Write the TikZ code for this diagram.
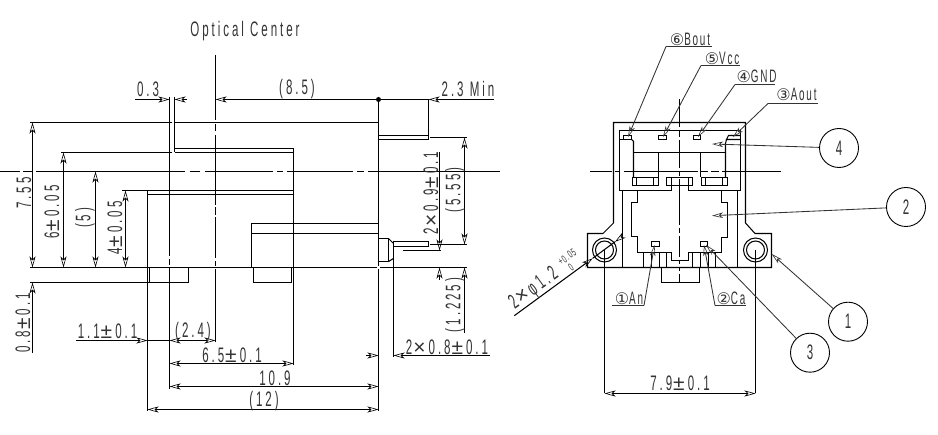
\documentclass[tikz,border=0pt]{standalone}
\usepackage{fontspec}
\usetikzlibrary{arrows.meta}
\newfontfamily\cadf[FakeStretch=0.55,LetterSpace=14]{Liberation Sans}
\newfontfamily\cadl[FakeStretch=0.55,LetterSpace=10]{Liberation Sans}
\newfontfamily\syf{Liberation Sans}
\newfontfamily\cirf{DejaVu Sans}
\newcommand{\cn}[1]{{\cirf\fontsize{16}{16}\selectfont #1}}
\newcommand{\pmm}{{\syf\kern1pt ±\kern3pt}}
\newcommand{\tmm}{{\syf\kern1pt ×\kern3pt}}
\tikzset{
  ln/.style={line width=1.05pt,black},
  dimb/.style={ln,{Stealth[open,length=11pt,width=6pt,inset=3pt,line width=0.6pt]}-{Stealth[open,length=11pt,width=6pt,inset=3pt,line width=0.6pt]}},
  dimr/.style={ln,-{Stealth[open,length=11pt,width=6pt,inset=3pt,line width=0.6pt]}},
  lead/.style={line width=0.85pt,black!80,-{Stealth[open,length=11pt,width=5.5pt,inset=3pt,line width=0.6pt]}},
  txt/.style={inner sep=0pt,text=black!80,font=\cadf\fontsize{21}{21}\selectfont},
  lbl/.style={inner sep=0pt,text=black!80,font=\cadl\fontsize{18}{18}\selectfont},
  tol/.style={inner sep=0pt,text=black!80,font=\cadl\fontsize{11}{11}\selectfont},
  bal/.style={circle,draw=black,line width=0.9pt,minimum size=39pt,inner sep=0pt,text=black!80,font=\cadf\fontsize{21}{21}\selectfont},
}
\begin{document}
\begin{tikzpicture}[x=1pt,y=-1pt]
\useasboundingbox (0,0) rectangle (938,435);
\fill[white] (0,0) rectangle (938,435);
% ---- centre lines, left view
\foreach \a/\b in {0/20,23/33,36/185,190/200,205/273,277/283,287/353,357/364,368/500}
  \draw[ln] (\a,171.5) -- (\b,171.5);
\foreach \a/\b in {55/120,124/131,135/205,207.5/215,217.5/258,261/266,269/342}
  \draw[ln] (215.5,\a) -- (215.5,\b);
\foreach \a/\b in {97/256,259/265,268/389}
  \draw[ln] (169.5,\a) -- (169.5,\b);
% ---- body, left view
\draw[ln] (30,122.5) -- (172,122.5);
\draw[ln] (174.5,97) -- (174.5,152.5);
\draw[ln] (174.5,122.5) -- (378.5,122.5);
\draw[ln] (174.5,148.5) -- (293.5,148.5);
\draw[ln] (61,152.5) -- (172,152.5) (174.5,152.5) -- (293.5,152.5);
\draw[ln] (122,190.5) -- (293.5,190.5);
\draw[ln] (147.5,194.5) -- (293.5,194.5);
\draw[ln] (147.5,190.5) -- (147.5,411);
\draw[ln] (293.5,148.5) -- (293.5,365);
\draw[ln] (378.5,99.5) -- (378.5,266) (378.5,269) -- (378.5,411);
\draw[ln] (30,267.5) -- (376.5,267.5) (380,267.5) -- (467,267.5);
\draw[ln] (30,282.5) -- (188.5,282.5) -- (188.5,267.5);
\draw[ln] (149.5,267.5) -- (149.5,282.5);
\draw[ln] (378.5,135.5) -- (428.5,135.5) -- (428.5,139.5) -- (378.5,139.5);
\draw[ln] (251.5,267.5) -- (251.5,223.5) -- (378.5,223.5);
\draw[ln] (251.5,233.5) -- (378.5,233.5);
\draw[ln] (253.5,267.5) -- (253.5,282.5) -- (291.5,282.5) -- (291.5,267.5);
\draw[ln] (378.5,238.5) -- (388.5,238.5) -- (388.5,261.5) -- (378.5,261.5);
\draw[ln] (388.5,238.5) -- (393.5,243.5) (388.5,261.5) -- (393.5,258.5);
\draw[ln] (393.5,241.5) -- (428.5,241.5) -- (428.5,246.5) -- (393.5,246.5);
\draw[ln] (393.5,241.5) -- (393.5,357);
% ---- extension lines
\draw[ln] (428.5,99.5) -- (428.5,135.5);
\draw[ln] (430,137.5) -- (467,137.5);
\draw[ln] (430,244.5) -- (467,244.5);
\draw[ln] (403,250.5) -- (441,250.5);
% ---- dimensions, left view
\fill (378.5,99.5) circle (2.5pt);
\draw[dimb] (32.5,122.5) -- (32.5,267.5);
\draw[dimb] (63.5,152.5) -- (63.5,267.5);
\draw[dimb] (95.5,171.5) -- (95.5,267.5);
\draw[dimb] (125.5,190.5) -- (125.5,267.5);
\draw[dimr] (32.5,353) -- (32.5,282.5);
\draw[dimr] (135,99.5) -- (169.5,99.5);
\draw[dimr] (187,99.5) -- (174.5,99.5);
\draw[dimr] (378.5,99.5) -- (215.5,99.5);
\draw[ln] (378.5,99.5) -- (428.5,99.5);
\draw[dimr] (494,99.5) -- (428.5,99.5);
\draw[dimr] (76,340.5) -- (147.5,340.5);
\draw[ln] (147.5,340.5) -- (169.5,340.5);
\draw[dimb] (169.5,340.5) -- (215.5,340.5);
\draw[dimb] (169.5,363.5) -- (293.5,363.5);
\draw[dimb] (169.5,386.5) -- (378.5,386.5);
\draw[dimb] (147.5,409.5) -- (378.5,409.5);
\draw[dimr] (366,355.5) -- (378.5,355.5);
\draw[dimr] (490,355.5) -- (393.5,355.5);
\draw[dimr] (439.5,152) -- (439.5,250.5);
\draw[dimr] (439.5,280) -- (439.5,267.5);
\draw[dimb] (464.5,137.5) -- (464.5,244.5);
\draw[dimr] (464.5,333) -- (464.5,267.5);
% ---- texts, left view
\node[txt] (tOC) at (245,31) {Optical Center};
\node[txt] (t03) at (148,89) {0.3};
\node[txt] (t85) at (297,89) {(8.5)};
\node[txt] (t23) at (468,89) {2.3 Min};
\node[txt,rotate=90] (t755) at (24,193) {7.55};
\node[txt,rotate=90] (t6) at (52,212) {6\pmm0.05};
\node[txt,rotate=90] (t5) at (85,218) {(5)};
\node[txt,rotate=90] (t4) at (115,228) {4\pmm0.05};
\node[txt,rotate=90] (t08) at (23,323) {0.8\pmm0.1};
\node[txt] (t11) at (107.5,331) {1.1\pmm0.1};
\node[txt] (t24) at (193,332) {(2.4)};
\node[txt] (t65) at (232,355) {6.5\pmm0.1};
\node[txt] (t109) at (275,378) {10.9};
\node[txt] (t12) at (264,401) {(12)};
\node[txt] (t208) at (447,347) {2\tmm0.8\pmm0.1};
\node[txt,rotate=90] (t209) at (431,193) {2\tmm0.9\pmm0.1};
\node[txt,rotate=90] (t555) at (455,190) {(5.55)};
\node[txt,rotate=90] (t1225) at (455,305) {(1.225)};
% ---- centre lines, right view
\foreach \a/\b in {590/612,615/620,624/698,701/708,711/719,722/781}
  \draw[ln] (\a,171.5) -- (\b,171.5);
\foreach \a/\b in {99/127,130/137,140/168,171/176,179/225,228/233,236/257,260/264,267/271,274/282}
  \draw[ln] (679.5,\a) -- (679.5,\b);
% ---- right view outline
\draw[ln] (613.5,122.5) -- (745.5,122.5) -- (745.5,223) -- (755,233.5) -- (771.5,233.5) -- (771.5,267.5) -- (587.5,267.5) -- (587.5,233.5) -- (603,233.5) -- (613.5,223) -- cycle;
\draw[ln] (622.5,190.5) -- (619.5,190.5) -- (619.5,130.5) -- (740.5,130.5) -- (740.5,190.5) -- (737.5,190.5);
\draw[ln] (622.5,190.5) -- (622.5,267.5);
\draw[ln] (737.5,190.5) -- (737.5,267.5);
\draw[ln] (619.5,139.5) -- (631.5,139.5) -- (631.5,135.5) -- (623.5,135.5) -- (623.5,139.5);
\draw[ln] (631.5,139.5) -- (633.5,141.5) -- (633.5,177.5);
\draw[ln] (740.5,135.5) -- (728.5,135.5) -- (726.5,139.5) -- (740.5,139.5);
\draw[ln] (726.5,139.5) -- (725.5,143.5) -- (725.5,177.5);
\draw[ln] (633.5,152.5) -- (725.5,152.5);
\draw[ln] (658.5,152.5) -- (658.5,177.5);
\draw[ln] (700.5,152.5) -- (700.5,177.5);
\draw[ln] (658.5,135.5) rectangle (666.5,139.5);
\draw[ln] (693.5,135.5) rectangle (700.5,139.5);
\draw[ln] (632.5,177.5) rectangle (658.5,185.5);
\draw[ln] (666.5,177.5) rectangle (692.5,185.5);
\draw[ln] (701.5,177.5) rectangle (727.5,185.5);
\foreach \x in {636.5,653.5,671.5,688.5,705.5,722.5}
  \draw[ln] (\x,177.5) -- (\x,185.5);
\draw[ln] (622.5,190.5) -- (637.5,190.5) -- (637.5,202.5) -- (631.5,202.5) -- (631.5,236.5) -- (637.5,236.5) -- (637.5,252.5) -- (671.5,252.5) -- (671.5,260.5) -- (688.5,260.5) -- (688.5,252.5) -- (721.5,252.5) -- (721.5,237.5) -- (727.5,237.5) -- (727.5,202.5) -- (721.5,202.5) -- (721.5,190.5) -- (737.5,190.5);
\draw[ln] (671.5,185.5) -- (671.5,190.5) -- (637.5,190.5);
\draw[ln] (688.5,185.5) -- (688.5,190.5) -- (721.5,190.5);
\foreach \x in {643.5,651.5,659.5,666.5,692.5,700.5,708.5,715.5}
  \draw[ln] (\x,252.5) -- (\x,267.5);
\draw[ln] (661.5,267.5) -- (661.5,282.5) -- (699.5,282.5) -- (699.5,267.5);
\draw[ln] (651.5,241.5) rectangle (659.5,246.5);
\draw[ln] (700.5,241.5) rectangle (707.5,246.5);
% holes
\foreach \x in {604.5,755.5} {
  \draw[ln] (\x,250) circle (12pt);
  \draw[ln] (\x,250) circle (9pt);
  \draw[ln] (\x,250) -- (\x,393.5);
}
\draw[dimb] (604.5,393.5) -- (755.5,393.5);
\node[txt] (t79) at (680,383) {7.9\pmm0.1};
% diameter leader
\coordinate (phiA) at (514.3,315.7);
\coordinate (phiT) at (592.7,258.3);
\coordinate (phiB) at (622,236.7);
\coordinate (phiC) at (615,241.8);
\draw[dimr] (phiA) -- (phiT);
\draw[ln] (phiT) -- (phiC);
\draw[dimr] (phiB) -- (phiC);
\node[txt,rotate=36] (tphi) at (534,289) {2\tmm φ1.2};
\node[tol,rotate=36] (tphiu) at (567,257) {+0.05};
\node[tol,rotate=36] (tphil) at (571,267) {0};
% ---- pin labels
\node[lbl] (p6) at (690,39) {\cn{⑥}Bout};
\node[lbl] (p5) at (722,58) {\cn{⑤}Vcc};
\node[lbl] (p4) at (756.5,76) {\cn{④}GND};
\node[lbl] (p3) at (796.5,94) {\cn{③}Aout};
\node[lbl] (p1) at (629,298) {\cn{①}An};
\node[lbl] (p2) at (731,298) {\cn{②}Ca};
\coordinate (u6a) at (666,46.5); \coordinate (u6b) at (712,46.5);
\coordinate (u5a) at (701,65.5); \coordinate (u5b) at (740,65.5);
\coordinate (u4a) at (735,84.5); \coordinate (u4b) at (775,84.5);
\coordinate (u3a) at (768,103.5); \coordinate (u3b) at (818,103.5);
\coordinate (u1a) at (612,305.5); \coordinate (u1b) at (644,305.5);
\coordinate (u2a) at (715,305.5); \coordinate (u2b) at (746,305.5);
\draw[line width=0.85pt,black!80] (u6a)--(u6b) (u5a)--(u5b) (u4a)--(u4b) (u3a)--(u3b) (u1a)--(u1b) (u2a)--(u2b);
\draw[lead] (u6a) -- (628,137);
\draw[lead] (u5a) -- (663,137);
\draw[lead] (u4a) -- (698,137);
\draw[lead] (u3a) -- (733,137);
\draw[lead] (u1b) -- (654.5,245);
\draw[lead] (u2a) -- (704,245);
% ---- balloons
\node[bal] (b4) at (839,148) {4};
\node[bal] (b2) at (906,207) {2};
\node[bal] (b1) at (848,321.7) {1};
\node[bal] (b3) at (810,352.7) {3};
\draw[lead] (b4) -- (712,144);
\draw[lead] (b2) -- (712,215.7);
\draw[lead] (b1) -- (771.7,254);
\draw[lead] (b3) -- (706,245);
\end{tikzpicture}
\end{document}
